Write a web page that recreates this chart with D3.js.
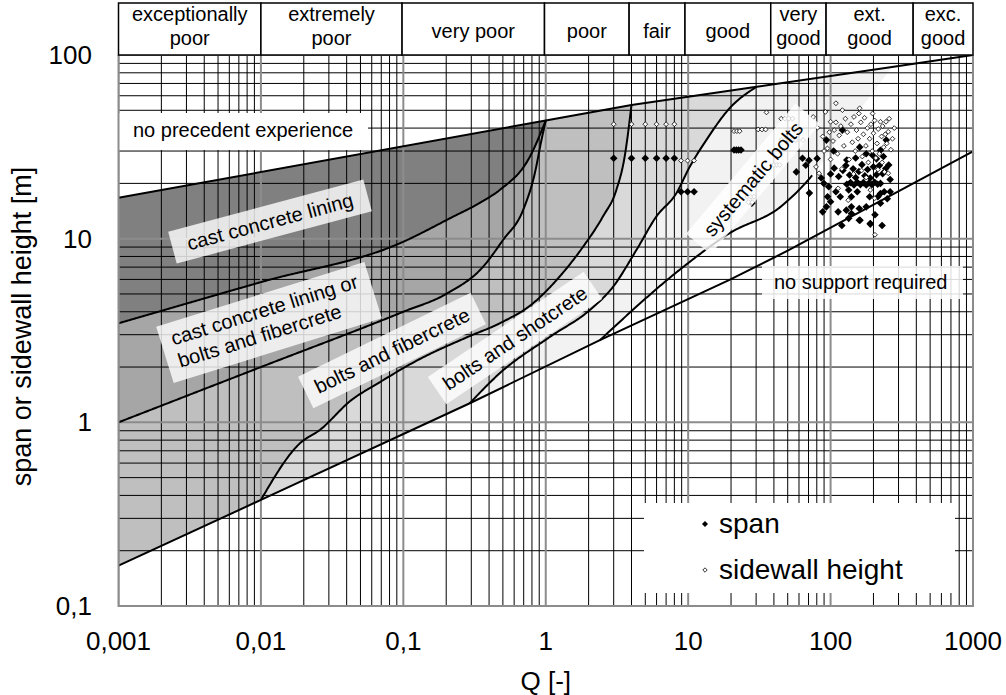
<!DOCTYPE html>
<html><head><meta charset="utf-8">
<script src="https://cdn.jsdelivr.net/npm/d3@7"></script>
<style>
html,body{margin:0;padding:0;background:#fff;}
svg{display:block;font-family:"Liberation Sans",Arial,sans-serif;}
</style></head><body>
<svg id="chart" width="1006" height="695"></svg>
<script>
// ---------------- DATA ----------------
const qTicks = [0.001, 0.01, 0.1, 1, 10, 100, 1000];
const qTickLabels = ["0,001", "0,01", "0,1", "1", "10", "100", "1000"];
const spanTicks = [0.1, 1, 10, 100];
const spanTickLabels = ["0,1", "1", "10", "100"];
const classEdges = [0.001, 0.01, 0.098, 0.98, 3.85, 9.5, 38, 93, 380, 1000];
const classLabels = [["exceptionally","poor"],["extremely","poor"],["very poor"],["poor"],["fair"],["good"],["very","good"],["ext.","good"],["exc.","good"]];

// boundary lines  [Q, span]
const upperLine = [[0.001,16.7],[1,44],[4,53.4],[30.3,67.2],[270,86.1],[1000,100]];
const lineC = [[0.001,0.166],[0.01,0.378],[0.293,1.27],[2.4,2.8],[19.5,5.96],[50,8.6],[1000,29.9]];
const curveA = [[0.001,3.46],[0.01,5.8],[0.1,9.62],[0.212,12.9],[0.371,16.2],[0.475,18.4],[0.773,27.9],[1,44]];
const curveB = [[0.001,1.0],[0.01,2.0],[0.1,4.0],[0.2,5.0],[0.363,7.03],[0.501,9.83],[0.693,14.3],[0.838,22.7],[0.933,34.4],[1,44]];
const curveF = [[0.01,0.378],[0.0188,0.769],[0.0259,0.908],[0.0431,1.32],[0.0663,1.63],[0.126,2.18],[0.284,2.92],[0.475,3.46],[0.815,4.45],[1.25,6.21],[1.83,9.04],[2.52,13.2],[3.13,18.4],[3.58,27.9],[4,53.4]];
const curveG = [[0.293,1.27],[0.475,1.85],[1.07,2.92],[2.04,4.09],[2.97,5.47],[4.33,8.67],[5.98,13.2],[8.27,17.7],[10.25,24.6],[13.4,34.4],[19.5,51.2],[30.3,67.2]];
const curveD = [[2.4,2.8],[9.2,7.0],[19.5,10.7],[45,15.0],[72,21.5],[120,37],[270,86.1]];

const regionNames = ["cast concrete lining", "cast concrete lining or|bolts and fibercrete", "bolts and fibercrete", "bolts and shotcrete", "systematic bolts", "no precedent experience", "no support required"];

// measured points [Q, value]
const spanPoints = [
 [3,27.4],[4,27.4],[5,27.4],[6,27.4],[7,27.4],[8,27.4],
 [8.9,18],[9.9,18],[11,18],
 [21,30.4],[21.8,30.4],[22.6,30.4],[23.5,30.4],
 [28,15.6],
 [57.5,23.1],[63.5,27.4],[67,25.1],[70.5,26.7],[80.5,27.3],[71,17.7],
 [88,14.0],[93.5,14.9],[86,21.4],[89.7,20.0],[97,19.2],[95.3,16.9],[100,15.9],
 [109,18.0],[117,16.9],[134,18.4],[140,16.9],[154,18.0],[113,14.0],[129,14.3],[140,14.9],[161,12.6],[190,12.1],
 [130,19.8],[138,20.2],[146,19.6],[154,20.3],[162,19.7],[170,20.2],[178,19.6],[186,20.1],[195,19.7],[204,20.3],[214,19.8],[224,20.0],
 [100,22.5],[106,24.2],[114,21.8],[122,23.5],[128,25.0],[136,22.2],[144,24.0],[150,21.5],[158,23.2],[166,25.3],[174,22.0],[182,23.8],[190,21.4],[200,24.6],[210,22.3],[220,25.0],[232,22.6],[244,24.1],[256,25.2],[262,21.0],
 [93.5,34.4],[121,39],[178,29],[197,28.5],[224,30.3],[246,34.4],[105,30],[150,27.5],[160,31.5],[210,27.2],[235,28],[130,26.8],
 [224,17.6],[238,18.0],[262,18.0],[224,15.6],[159,14.6],[140,13.7],[134,12.9],[159,12.6],[178,14.9],[188,16.9],[215,16.9],[190,12.0],[120,11.8],[205,13.5],[250,16.5],[230,11.8]
];
const sidewallPoints = [
 [3,42],[4,42],[5,42],[6,42],[7,42],[8,42],
 [8.9,26.6],[9.9,26.6],[11,26.6],
 [21,38.5],[22,38.5],[23,38.5],
 [31,39.3],[33,39.3],[35,39.3],
 [35.5,48.7],
 [45,45],[48,45],[51,45],[54,45],
 [45,34.4],[48,34.4],[51,34.4],[54,34.4],[57,34.4],
 [40,25.2],[42,25.2],[44,25.2],
 [26,16.9],[27.5,16.9],[29,16.9],[26.5,15.8],[28.2,15.8],
 [109,54.6],[121,50.1],[160,51.3],[158,48],[197,48],[224,43.3],[245,43.3],[254,38.2],[92,49],[75.5,46],[81,40.2],[100,43.3],[109,43],[106,39],[79,24.6],[83,22.7],[64,34.4],[113,18.8],[190,18.4],[204,16.6],[205,10.5],[239,23.1],[254,22.7],[133,16.2],
 [88,36],[95,31],[98,38],[104,34],[112,29],[115,36.5],[118,41],[124,32],[127,45],[131,38],[135,27],[139,42],[142,33.5],[146,46],[149,30],[152,39],[156,35],[163,43],[167,28],[170,37],[173,45.5],[177,32],[181,40],[184,26],[188,35],[192,42],[196,30],[200,37.5],[204,44],[208,27.5],[212,33],[216,39.5],[220,29],[228,36],[232,41],[236,31.5],[242,37],[248,33],[258,45],[265,30.5],[272,35],[280,40],[120,24],[145,22.5],[165,23.5],[178,21.5],[215,23.8],[230,26],[100,27],[90,30]
];

// ---------------- LAYOUT ----------------
const svg = d3.select('#chart');
const X0 = 118.5, X1 = 973, Y0 = 55, Y1 = 606;
const x = d3.scaleLog().domain([0.001,1000]).range([X0,X1]);
const y = d3.scaleLog().domain([0.1,100]).range([Y1,Y0]);
const P = d => [x(d[0]), y(d[1])];

svg.append('defs').append('clipPath').attr('id','clip')
  .append('rect').attr('x',X0).attr('y',Y0).attr('width',X1-X0).attr('height',Y1-Y0);

const tmpG = svg.append('g').attr('visibility','hidden');
function dense(pts, curve){
  const p = tmpG.append('path').attr('d', d3.line().curve(curve)(pts.map(P))).node();
  const L = p.getTotalLength(), n = Math.max(2, Math.ceil(L/1.5)), out = [];
  for (let i=0;i<=n;i++){ const q = p.getPointAtLength(L*i/n); out.push([q.x,q.y]); }
  return out;
}
const idx = (arr,q) => arr.findIndex(d => Math.abs(d[0]-q) < 1e-9);
const upPx = upperLine.map(P), cPx = lineC.map(P);
const dA = dense(curveA, d3.curveMonotoneX), dB = dense(curveB, d3.curveMonotoneX),
      dF = dense(curveF, d3.curveMonotoneX), dG = dense(curveG, d3.curveMonotoneX),
      dD = dense(curveD, d3.curveMonotoneX);

const regions = [
  {fill:'#f2f2f2', pts:[...upPx.slice(0, idx(upperLine,270)+1), ...dD.slice().reverse(), ...cPx.slice(0, idx(lineC,2.4)+1).reverse()]},
  {fill:'#d9d9d9', pts:[...upPx.slice(0, idx(upperLine,30.3)+1), ...dG.slice().reverse(), ...cPx.slice(0, idx(lineC,0.293)+1).reverse()]},
  {fill:'#bfbfbf', pts:[...upPx.slice(0, idx(upperLine,4)+1), ...dF.slice().reverse(), ...cPx.slice(0, idx(lineC,0.01)+1).reverse()]},
  {fill:'#a6a6a6', pts:[...upPx.slice(0, idx(upperLine,1)+1), ...dB.slice().reverse()]},
  {fill:'#808080', pts:[...upPx.slice(0, idx(upperLine,1)+1), ...dA.slice().reverse()]}
];
const plotG = svg.append('g').attr('clip-path','url(#clip)');
plotG.selectAll('path.reg').data(regions).join('path').attr('class','reg')
  .attr('d', d => 'M' + d.pts.map(p=>p.join(',')).join('L') + 'Z')
  .attr('fill', d => d.fill).attr('stroke','none');

// grid
const isMajor = v => Math.abs(Math.log10(v) - Math.round(Math.log10(v))) < 1e-6;
const xt = x.ticks(), yt = y.ticks();
const gridG = plotG.append('g');
gridG.selectAll('line.vm').data(xt.filter(v=>!isMajor(v))).join('line')
  .attr('x1',d=>x(d)).attr('x2',d=>x(d)).attr('y1',Y0).attr('y2',Y1).attr('stroke','#000').attr('stroke-width',1);
gridG.selectAll('line.hm').data(yt.filter(v=>!isMajor(v))).join('line')
  .attr('y1',d=>y(d)).attr('y2',d=>y(d)).attr('x1',X0).attr('x2',X1).attr('stroke','#000').attr('stroke-width',1);
gridG.selectAll('line.vM').data(xt.filter(isMajor)).join('line')
  .attr('x1',d=>x(d)).attr('x2',d=>x(d)).attr('y1',Y0).attr('y2',Y1).attr('stroke','#8c8c8c').attr('stroke-width',2);
gridG.selectAll('line.hM').data(yt.filter(isMajor)).join('line')
  .attr('y1',d=>y(d)).attr('y2',d=>y(d)).attr('x1',X0).attr('x2',X1).attr('stroke','#8c8c8c').attr('stroke-width',2);

// boundary lines
const lineLin = d3.line().curve(d3.curveLinear);
const strokes = [upPx, cPx, dA, dB, dF, dG, dD.filter(p => p[0] <= x(75))];
plotG.selectAll('path.bd').data(strokes).join('path').attr('class','bd')
  .attr('d', d => lineLin(d)).attr('fill','none').attr('stroke','#000').attr('stroke-width',2).attr('stroke-linejoin','round');

// points
const diamond = r => `M0,${-r}L${r},0L0,${r}L${-r},0Z`;
plotG.append('g').selectAll('path').data(spanPoints).join('path')
  .attr('transform', d => `translate(${x(d[0])},${y(d[1])})`)
  .attr('d', diamond(3.8)).attr('fill','#000');
plotG.append('g').selectAll('path').data(sidewallPoints).join('path')
  .attr('transform', d => `translate(${x(d[0])},${y(d[1])})`)
  .attr('d', diamond(2.4)).attr('fill','#fff').attr('stroke','#000').attr('stroke-width',0.8);

// rotated region labels
const labelLayout = [
  {name:0, cx:270, cy:221.5, a:-15, w:202, h:33},
  {name:1, cx:269, cy:322.5, a:-17.3, w:218, h:59},
  {name:2, cx:392, cy:350.5, a:-26, w:192, h:35},
  {name:3, cx:515, cy:338, a:-34, w:188, h:33},
  {name:4, cx:753, cy:179, a:-50, w:170, h:32}
];
labelLayout.forEach(L => {
  const lines = regionNames[L.name].split('|');
  const g = svg.append('g').attr('transform', `translate(${L.cx},${L.cy}) rotate(${L.a})`);
  g.append('rect').attr('x',-L.w/2).attr('y',-L.h/2).attr('width',L.w).attr('height',L.h)
    .attr('fill','#fff').attr('fill-opacity',0.8);
  if (lines.length === 1) {
    g.append('text').attr('x',0).attr('y',7).attr('text-anchor','middle').attr('font-size',20).text(lines[0]);
  } else {
    lines.forEach((t,i) => g.append('text').attr('x',-L.w/2+11).attr('y',-6.5+i*23.5).attr('font-size',20).text(t));
  }
});
// flat labels
svg.append('rect').attr('x',X0).attr('y',113).attr('width',368-X0).attr('height',37).attr('fill','#fff');
svg.append('text').attr('x',133).attr('y',137).attr('font-size',20).text(regionNames[5]);
svg.append('rect').attr('x',762).attr('y',266).attr('width',201).attr('height',33).attr('fill','#fff').attr('fill-opacity',0.85);
svg.append('text').attr('x',774).attr('y',289).attr('font-size',20).text(regionNames[6]);

// legend
svg.append('rect').attr('x',644).attr('y',503).attr('width',311).attr('height',90).attr('fill','#fff');
svg.append('path').attr('transform','translate(705,524)').attr('d',diamond(3)).attr('fill','#000');
svg.append('path').attr('transform','translate(705,570)').attr('d',diamond(2.2)).attr('fill','#fff').attr('stroke','#000').attr('stroke-width',0.8);
svg.append('text').attr('x',719).attr('y',533).attr('font-size',28).text('span');
svg.append('text').attr('x',719).attr('y',579).attr('font-size',28).text('sidewall height');

// plot frame
svg.append('path').attr('d',`M${X0},${Y0}L${X0},${Y1}L${X1},${Y1}L${X1},${Y0}`)
  .attr('fill','none').attr('stroke','#8c8c8c').attr('stroke-width',2);

// header
const hTop = 3, hBot = 55;
const hdr = svg.append('g');
classLabels.forEach((lab,i) => {
  const xa = x(classEdges[i]), xb = x(classEdges[i+1]);
  hdr.append('rect').attr('x',xa).attr('y',hTop).attr('width',xb-xa).attr('height',hBot-hTop)
    .attr('fill','#fff').attr('stroke','#000').attr('stroke-width',1.5);
  const cx = (xa+xb)/2;
  if (lab.length === 1) {
    hdr.append('text').attr('x',cx).attr('y',37.5).attr('text-anchor','middle').attr('font-size',20).text(lab[0]);
  } else {
    hdr.append('text').attr('x',cx).attr('y',21).attr('text-anchor','middle').attr('font-size',20).text(lab[0]);
    hdr.append('text').attr('x',cx).attr('y',45).attr('text-anchor','middle').attr('font-size',20).text(lab[1]);
  }
});

// axes labels
svg.append('g').selectAll('text').data(qTicks).join('text')
  .attr('x', d => x(d)).attr('y', 650).attr('text-anchor','middle').attr('font-size',26)
  .text((d,i) => qTickLabels[i]);
svg.append('g').selectAll('text').data(spanTicks).join('text')
  .attr('x', 92).attr('y', d => y(d) + 9).attr('text-anchor','end').attr('font-size',26)
  .text((d,i) => spanTickLabels[i]);
svg.append('text').attr('x',(X0+X1)/2).attr('y',690).attr('text-anchor','middle').attr('font-size',26).text('Q [-]');
svg.append('text').attr('transform',`translate(31,${(Y0+Y1)/2 - 4}) rotate(-90)`).attr('text-anchor','middle').attr('font-size',27).text('span or sidewall height [m]');
tmpG.remove();
</script>
</body></html>
